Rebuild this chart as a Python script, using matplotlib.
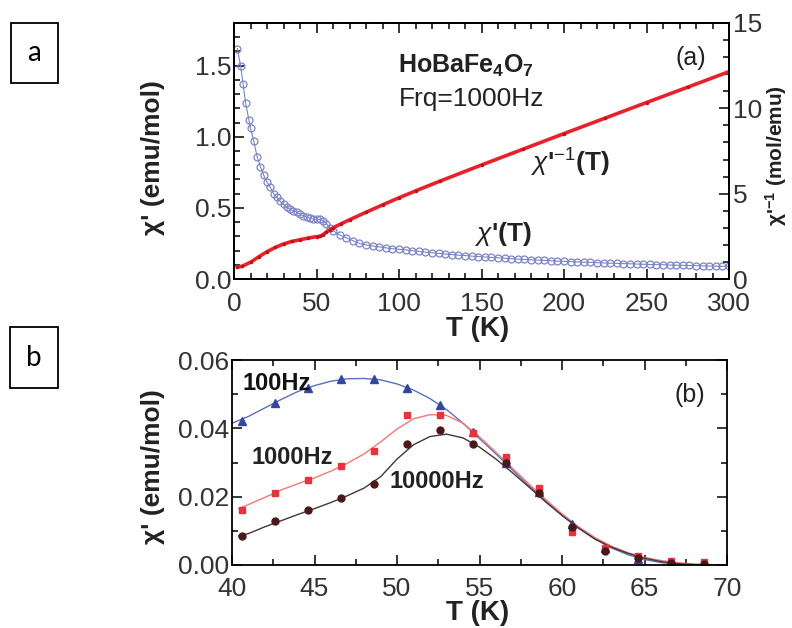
import matplotlib.pyplot as plt
from matplotlib.ticker import MultipleLocator
from matplotlib.patches import Rectangle

plt.rcParams['font.family'] = ['Liberation Sans', 'DejaVu Sans']
plt.rcParams['mathtext.fontset'] = 'custom'
plt.rcParams['mathtext.rm'] = 'Liberation Sans'
plt.rcParams['mathtext.it'] = 'Liberation Sans:italic'
plt.rcParams['mathtext.bf'] = 'Liberation Sans:bold'

# panel (a): chi' (left axis) and 1/chi' (right axis) at 1000 Hz
t_chi = [2, 4, 5.5, 7, 9, 10, 12, 14, 16, 18, 20, 22, 24, 26, 28, 30, 32, 34, 36, 38,
         40, 42, 44, 46, 48, 50, 52, 54, 56, 58, 60, 64, 68, 72, 76, 80, 84, 88, 92, 96,
         100, 104, 108, 112, 116, 120, 124, 128, 132, 136, 140, 144, 148, 152, 156, 160,
         164, 168, 172, 176, 180, 184, 188, 192, 196, 200, 204, 208, 212, 216, 220, 224,
         228, 232, 236, 240, 244, 248, 252, 256, 260, 264, 268, 272, 276, 280, 284, 288,
         292, 296, 300]
chi = [1.62, 1.50, 1.37, 1.24, 1.12, 1.06, 0.97, 0.86, 0.79, 0.73, 0.68, 0.645, 0.60,
       0.575, 0.545, 0.525, 0.505, 0.49, 0.48, 0.47, 0.455, 0.445, 0.435, 0.428, 0.422,
       0.42, 0.42, 0.41, 0.39, 0.36, 0.34, 0.31, 0.29, 0.27, 0.25, 0.24, 0.232, 0.226,
       0.219, 0.213, 0.209, 0.205, 0.199, 0.194, 0.189, 0.185, 0.180, 0.176, 0.172,
       0.168, 0.165, 0.161, 0.158, 0.155, 0.152, 0.149, 0.146, 0.143, 0.140, 0.138,
       0.135, 0.133, 0.131, 0.128, 0.126, 0.124, 0.122, 0.120, 0.118, 0.117, 0.115,
       0.113, 0.111, 0.110, 0.108, 0.107, 0.105, 0.104, 0.102, 0.101, 0.100, 0.098,
       0.097, 0.096, 0.095, 0.094, 0.092, 0.091, 0.090, 0.089, 0.088]

t_inv = [2, 5, 10, 15, 20, 25, 30, 35, 40, 45, 50, 52, 54, 56, 58, 60, 65, 70, 80, 90,
         100, 110, 125, 150, 175, 200, 225, 250, 275, 300]
chi_inv = [0.70, 0.75, 0.98, 1.3, 1.6, 1.85, 2.05, 2.2, 2.3, 2.4, 2.48, 2.5, 2.6, 2.75,
           2.88, 3.0, 3.24, 3.47, 3.91, 4.34, 4.76, 5.16, 5.74, 6.68, 7.6, 8.52, 9.43,
           10.34, 11.24, 12.15]

# panel (b): measured points at three frequencies
t_pts = [40.6, 42.6, 44.6, 46.6, 48.6, 50.6, 52.6, 54.6, 56.6, 58.6, 60.6, 62.6, 64.6,
         66.6, 68.6]
pts_100 = [0.0422, 0.0473, 0.0517, 0.0544, 0.0544, 0.0517, 0.0468, 0.0389, 0.0298,
           0.0215, 0.0120, 0.0050, 0.0018, 0.0003, 0.0]
pts_1000 = [0.0160, 0.0212, 0.0248, 0.0291, 0.0335, 0.0438, 0.0438, 0.0385, 0.0315,
            0.0225, 0.0098, 0.0050, 0.0025, 0.0012, 0.0008]
pts_10000 = [0.0084, 0.0128, 0.0160, 0.0197, 0.0236, 0.0355, 0.0396, 0.0355, 0.0300,
             0.0210, 0.0110, 0.0042, 0.0020, 0.0005, 0.0002]

# panel (b): smooth fit curves
t_fit_100 = [40, 41, 42, 43, 44, 45, 46, 47, 48, 49, 50, 51, 52, 53, 54, 55, 56, 57, 58,
             59, 60, 61, 62, 63, 64, 65, 66, 67, 68, 70]
fit_100 = [0.0415, 0.0435, 0.0460, 0.0485, 0.0508, 0.0525, 0.0538, 0.0545, 0.0546,
           0.0542, 0.0530, 0.0512, 0.0487, 0.0455, 0.0415, 0.0370, 0.0325, 0.0278,
           0.0232, 0.0188, 0.0146, 0.0108, 0.0076, 0.0050, 0.0030, 0.0016, 0.0007,
           0.0002, 0.0, 0.0]
t_fit_1000 = [40.4, 41, 42, 43, 44, 45, 46, 47, 48, 49, 50, 51, 52, 53, 54, 55, 56, 57,
              58, 59, 60, 61, 62, 63, 64, 65, 66, 67, 68, 69, 70]
fit_1000 = [0.0165, 0.0177, 0.0198, 0.0220, 0.0238, 0.0255, 0.0275, 0.0298, 0.0325,
            0.0360, 0.0398, 0.0428, 0.0440, 0.0438, 0.0415, 0.0375, 0.0330, 0.0283,
            0.0237, 0.0192, 0.0150, 0.0112, 0.0080, 0.0055, 0.0036, 0.0022, 0.0013,
            0.0007, 0.0003, 0.0001, 0.0]
t_fit_10000 = [40.4, 41, 42, 43, 44, 45, 46, 47, 48, 49, 50, 51, 52, 53, 54, 55, 56, 57,
               58, 59, 60, 61, 62, 63, 64, 65, 66, 67, 68, 69]
fit_10000 = [0.0085, 0.0092, 0.0112, 0.0130, 0.0148, 0.0165, 0.0183, 0.0203, 0.0225,
             0.0258, 0.0310, 0.0352, 0.0376, 0.0383, 0.0372, 0.0345, 0.0310, 0.0270,
             0.0228, 0.0185, 0.0145, 0.0108, 0.0076, 0.0052, 0.0034, 0.0020, 0.0010,
             0.0004, 0.0001, 0.0]

W, H = 792, 628
fig = plt.figure(figsize=(W / 100, H / 100), dpi=100)


def px_rect(x0, y0, x1, y1):
    return [x0 / W, 1 - y1 / H, (x1 - x0) / W, (y1 - y0) / H]


def style_ticks(ax, **kw):
    ax.tick_params(which='both', direction='in', width=1.1, labelsize=19,
                   labelcolor='#333333', **kw)
    ax.tick_params(which='major', length=7)
    ax.tick_params(which='minor', length=4)
    for s in ax.spines.values():
        s.set_linewidth(1.3)


# ---- panel a ----
ax_a = fig.add_axes(px_rect(234, 23, 729, 279))
ax_a.plot(t_chi, chi, '-', color='#7b84c4', lw=0.8, marker='o', ms=5, mfc='none',
          mec='#7b84c4', mew=0.9)
ax_a.set_xlim(0, 300)
ax_a.set_ylim(0, 1.8)
ax_a.xaxis.set_major_locator(MultipleLocator(50))
ax_a.xaxis.set_minor_locator(MultipleLocator(10))
ax_a.yaxis.set_major_locator(MultipleLocator(0.5))
ax_a.yaxis.set_minor_locator(MultipleLocator(0.1))
ax_a.set_yticks([0, 0.5, 1.0, 1.5])
style_ticks(ax_a, top=True, right=False)
ax_a.tick_params(axis='x', pad=9)
ax_a.tick_params(axis='y', pad=2)

ax_r = ax_a.twinx()
ax_r.plot(t_inv, chi_inv, '-', color='#e8222a', lw=2.6, marker='o', ms=1.5,
          mfc='#c01018', mec='#c01018')
ax_r.set_ylim(0, 15)
ax_r.yaxis.set_major_locator(MultipleLocator(5))
ax_r.yaxis.set_minor_locator(MultipleLocator(1))
style_ticks(ax_r, left=False)
ax_r.tick_params(axis='y', pad=3)

fig.text(466 / W, 1 - 66 / H, r'HoBaFe$_\mathbf{4}$O$_\mathbf{7}$', fontsize=18,
         fontweight='bold', ha='center', va='center', color='#222222')
fig.text(472 / W, 1 - 99 / H, 'Frq=1000Hz', fontsize=19, ha='center', va='center',
         color='#222222')
fig.text(691 / W, 1 - 58 / H, '(a)', fontsize=18, ha='center', va='center', color='#222222')
fig.text(570 / W, 1 - 163 / H, r"$\chi$'$^{-1}$(T)", fontsize=19, fontweight='bold',
         ha='center', va='center', color='#222222')
fig.text(503 / W, 1 - 234 / H, r"$\chi$'(T)", fontsize=19, fontweight='bold',
         ha='center', va='center', color='#222222')

fig.text(153 / W, 1 - 158 / H, "χ' (emu/mol)", rotation=90, fontsize=19,
         fontweight='bold', ha='center', va='center', color='#222222')
fig.text(776 / W, 1 - 156 / H, r"χ'$^{\mathbf{-1}}$ (mol/emu)", rotation=90,
         fontsize=15, fontweight='bold', ha='center', va='center', color='#222222')
fig.text(478 / W, 1 - 329 / H, 'T (K)', fontsize=20, fontweight='bold', ha='center',
         va='center', color='#222222')

# ---- panel b ----
ax_b = fig.add_axes(px_rect(232, 360, 727, 565))
ax_b.plot(t_fit_100, fit_100, '-', color='#5a70c0', lw=1.0)
ax_b.plot(t_fit_1000, fit_1000, '-', color='#f07878', lw=1.0)
ax_b.plot(t_fit_10000, fit_10000, '-', color='#4a3434', lw=1.0)
ax_b.plot(t_pts, pts_100, '^', color='#33479e', ms=5.5, ls='none')
ax_b.plot(t_pts, pts_1000, 's', color='#e8323c', ms=5, ls='none')
ax_b.plot(t_pts, pts_10000, 'o', color='#4a1818', ms=5, ls='none')
ax_b.set_xlim(40, 70)
ax_b.set_ylim(0, 0.06)
ax_b.xaxis.set_major_locator(MultipleLocator(5))
ax_b.xaxis.set_minor_locator(MultipleLocator(2.5))
ax_b.yaxis.set_major_locator(MultipleLocator(0.02))
ax_b.yaxis.set_minor_locator(MultipleLocator(0.01))
ax_b.set_yticks([0, 0.02, 0.04, 0.06])
ax_b.set_yticklabels(['0.00', '0.02', '0.04', '0.06'])
style_ticks(ax_b, top=True, right=True)
ax_b.tick_params(axis='x', pad=9)
ax_b.tick_params(axis='y', pad=2)

fig.text(277 / W, 1 - 383 / H, '100Hz', fontsize=17, fontweight='bold', ha='center',
         va='center', color='#111111')
fig.text(292 / W, 1 - 458 / H, '1000Hz', fontsize=17, fontweight='bold', ha='center',
         va='center', color='#222222')
fig.text(437 / W, 1 - 482 / H, '10000Hz', fontsize=17, fontweight='bold', ha='center',
         va='center', color='#222222')
fig.text(690 / W, 1 - 395 / H, '(b)', fontsize=18, ha='center', va='center', color='#222222')

fig.text(153 / W, 1 - 467 / H, "χ' (emu/mol)", rotation=90, fontsize=19,
         fontweight='bold', ha='center', va='center', color='#222222')
fig.text(478 / W, 1 - 613 / H, 'T (K)', fontsize=20, fontweight='bold', ha='center',
         va='center', color='#222222')

# ---- boxed panel letters ----
for x0, y0, x1, y1, letter in [(11, 23, 58, 83, 'a'), (10, 327, 58, 388, 'b')]:
    fig.patches.append(Rectangle((x0 / W, 1 - y1 / H), (x1 - x0) / W, (y1 - y0) / H,
                                 transform=fig.transFigure, fill=False, lw=1.3,
                                 edgecolor='black'))
    fig.text((x0 + x1) / 2 / W, 1 - (y0 + y1) / 2 / H, letter, fontsize=20,
             family='Lato', ha='center', va='center')

fig.savefig('out.png', dpi=100)
